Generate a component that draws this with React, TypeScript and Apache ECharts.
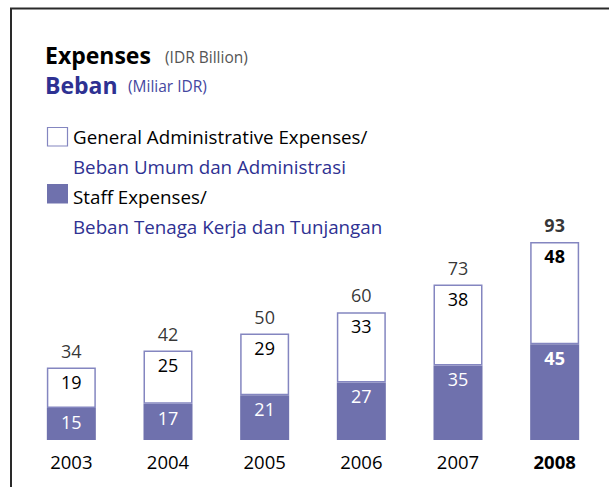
import React, { useEffect, useRef } from "react";
import * as echarts from "echarts";

const years = ["2003", "2004", "2005", "2006", "2007", "2008"];
const staffExpenses = [15, 17, 21, 27, 35, 45];
const generalAdminExpenses = [19, 25, 29, 33, 38, 48];
const totals = [34, 42, 50, 60, 73, 93];

const FONT = "'Open Sans', 'Noto Sans', sans-serif";
const PURPLE = "#6f71ad";
const BORDER = "#8486c0";
const BLUE = "#2e3192";

export default function App() {
  const ref = useRef<HTMLDivElement>(null);
  useEffect(() => {
    if (!ref.current) return;
    const chart = echarts.init(ref.current, null, { renderer: "svg" });
    const last = years.length - 1;
    const option: any = {
      animation: false,
      backgroundColor: "#ffffff",
      textStyle: { fontFamily: FONT },
      grid: { left: 23, right: 6, top: 227, bottom: 47, outerBoundsMode: "none", containLabel: false },
      xAxis: {
        type: "category",
        data: years.map((y, i) =>
          i === last ? { value: y, textStyle: { fontWeight: "bold" } } : y
        ),
        axisLine: { show: false },
        axisTick: { show: false },
        axisLabel: { margin: 12, fontSize: 18.5, color: "#000", fontFamily: FONT },
      },
      yAxis: { type: "value", min: 0, max: 100, show: false },
      series: [
        {
          name: "Staff Expenses",
          type: "bar",
          stack: "total",
          barWidth: 49,
          itemStyle: { color: PURPLE },
          data: staffExpenses.map((v, i) =>
            i === last ? { value: v, label: { fontWeight: "bold" } } : v
          ),
          label: {
            show: true,
            position: "insideTop",
            distance: 5,
            color: "#ffffff",
            fontSize: 18,
            fontFamily: FONT,
          },
        },
        {
          name: "General Administrative Expenses",
          type: "bar",
          stack: "total",
          barWidth: 49,
          itemStyle: { color: "#ffffff", borderColor: BORDER, borderWidth: 1.5 },
          data: generalAdminExpenses.map((v, i) =>
            i === last ? { value: v, label: { fontWeight: "bold" } } : v
          ),
          label: {
            show: true,
            position: "insideTop",
            distance: 5,
            color: "#000",
            fontSize: 18,
            fontFamily: FONT,
          },
        },
        {
          name: "Total",
          type: "scatter",
          symbolSize: 0,
          itemStyle: { color: "transparent" },
          data: totals.map((v, i) =>
            i === last ? { value: v, label: { fontWeight: "bold" } } : v
          ),
          label: {
            show: true,
            position: "top",
            distance: 8,
            color: "#000",
            fontSize: 18,
            fontFamily: FONT,
          },
        },
      ],
      graphic: [
        { type: "line", shape: { x1: 10, y1: 8.5, x2: 609, y2: 8.5 }, style: { stroke: "#2a2a2a", lineWidth: 2 } },
        { type: "line", shape: { x1: 11, y1: 8, x2: 11, y2: 487 }, style: { stroke: "#2a2a2a", lineWidth: 2 } },
        { type: "text", x: 45, y: 54.5, style: { text: "Expenses", font: `bold 23px ${FONT}`, fill: "#000", verticalAlign: "middle" } },
        { type: "text", x: 165, y: 56.5, style: { text: "(IDR Billion)", font: `15.5px ${FONT}`, fill: "#555", verticalAlign: "middle" } },
        { type: "text", x: 45, y: 85, style: { text: "Beban", font: `bold 23px ${FONT}`, fill: BLUE, verticalAlign: "middle" } },
        { type: "text", x: 128, y: 86, style: { text: "(Miliar IDR)", font: `15.5px ${FONT}`, fill: "#4547a0", verticalAlign: "middle" } },
        { type: "rect", shape: { x: 47.5, y: 127.5, width: 20, height: 18.5 }, style: { fill: "#fff", stroke: BORDER, lineWidth: 1.2 } },
        { type: "text", x: 73, y: 136.5, style: { text: "General Administrative Expenses/", font: `18.75px ${FONT}`, fill: "#000", verticalAlign: "middle" } },
        { type: "text", x: 73, y: 166.5, style: { text: "Beban Umum dan Administrasi", font: `18.75px ${FONT}`, fill: BLUE, verticalAlign: "middle" } },
        { type: "rect", shape: { x: 47, y: 184, width: 21, height: 19.5 }, style: { fill: PURPLE } },
        { type: "text", x: 73, y: 196.5, style: { text: "Staff Expenses/", font: `18.75px ${FONT}`, fill: "#000", verticalAlign: "middle" } },
        { type: "text", x: 73, y: 226.5, style: { text: "Beban Tenaga Kerja dan Tunjangan", font: `18.75px ${FONT}`, fill: BLUE, verticalAlign: "middle" } },
      ],
    };
    chart.setOption(option);
    return () => chart.dispose();
  }, []);
  return (
    <div
      ref={ref}
      style={{ position: "fixed", left: 0, top: 0, width: 609, height: 487 }}
    />
  );
}
